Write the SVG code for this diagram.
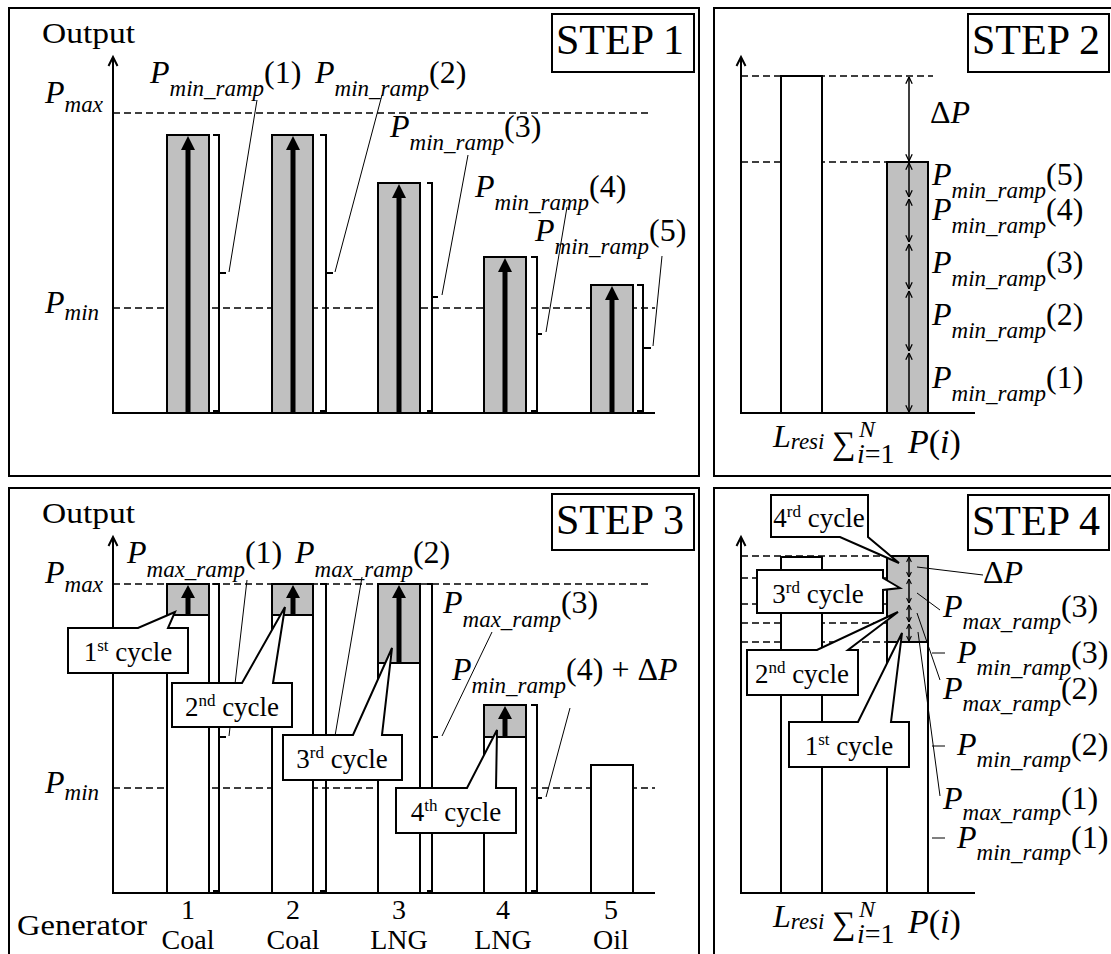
<svg xmlns="http://www.w3.org/2000/svg" width="1111" height="954" viewBox="0 0 1111 954">
<style>
text{font-family:"Liberation Serif","Times New Roman",serif;fill:#000}
.fr{fill:none;stroke:#000;stroke-width:2}
.ax{fill:none;stroke:#000;stroke-width:2}
.ds{fill:none;stroke:#000;stroke-width:1.3;stroke-dasharray:7 4}
.gb{fill:#c0c0c0;stroke:#000;stroke-width:2}
.wb{fill:#fff;stroke:#000;stroke-width:2}
.br{fill:none;stroke:#000;stroke-width:2}
.ld{fill:none;stroke:#000;stroke-width:1}
.ta{stroke:#000;stroke-width:5}
.da{fill:none;stroke:#000;stroke-width:1.5;marker-start:url(#ch);marker-end:url(#ch)}
.ds2{fill:none;stroke:#000;stroke-width:1.5;marker-start:url(#ch2);marker-end:url(#ch2)}
.co{fill:#fff;stroke:#000;stroke-width:2}
.lab{font-size:32px}
.i{font-style:italic}
.sub{font-size:23px;font-style:italic}
.step{font-size:42px}
.cy{font-size:27px}
.sup{font-size:17px}
.gen{font-size:28px}
</style>
<defs>
<marker id="ch" viewBox="0 0 10 10" refX="9.5" refY="5" markerWidth="8" markerHeight="8" markerUnits="userSpaceOnUse" orient="auto-start-reverse"><path d="M1,1 L9.5,5 L1,9" fill="none" stroke="#000" stroke-width="1.6"/></marker>
<marker id="ch2" viewBox="0 0 10 10" refX="9.5" refY="5" markerWidth="6" markerHeight="7" markerUnits="userSpaceOnUse" orient="auto-start-reverse"><path d="M1,1 L9.5,5 L1,9" fill="none" stroke="#000" stroke-width="1.8"/></marker>
</defs>

<!-- ================= STEP 1 ================= -->
<g id="step1">
<rect class="fr" x="9" y="8" width="690" height="468"/>
<g id="s1-title"><rect class="fr" x="552" y="14" width="142" height="58"/><text class="step" x="556" y="54">STEP 1</text></g>
<text id="s1-output" x="42" y="43" font-size="30" textLength="93" lengthAdjust="spacingAndGlyphs">Output</text>
<path class="ds" d="M113 113H652M113 308H655"/>
<g id="s1-axes"><path class="ax" d="M113 57V413H655"/><path class="ax" d="M108.5 66L113 57L117.5 66" stroke-width="1.5"/></g>
<text class="lab" x="45" y="103"><tspan class="i">P</tspan><tspan class="sub" dy="9">max</tspan></text>
<text class="lab" x="45" y="313"><tspan class="i">P</tspan><tspan class="sub" dy="7">min</tspan></text>
<g id="s1-bars">
<rect class="gb" x="167" y="135" width="42" height="278"/>
<rect class="gb" x="272" y="135" width="41" height="278"/>
<rect class="gb" x="378" y="183" width="42" height="230"/>
<rect class="gb" x="484" y="257" width="42" height="156"/>
<rect class="gb" x="591" y="285" width="42" height="128"/>
</g>
<g id="s1-arrows">
<line class="ta" x1="188" y1="412" x2="188" y2="148"/><polygon points="188,136 181,150 195,150"/>
<line class="ta" x1="293" y1="412" x2="293" y2="148"/><polygon points="293,136 286,150 300,150"/>
<line class="ta" x1="399" y1="412" x2="399" y2="196"/><polygon points="399,184 392,198 406,198"/>
<line class="ta" x1="505" y1="412" x2="505" y2="270"/><polygon points="505,258 498,272 512,272"/>
<line class="ta" x1="612" y1="412" x2="612" y2="298"/><polygon points="612,286 605,300 619,300"/>
</g>
<g id="s1-brackets">
<path class="br" d="M213 135H219V411H213M219 273H226"/>
<path class="br" d="M320 135H326V411H320M326 273H333"/>
<path class="br" d="M427 183H432V411H427M432 297H438"/>
<path class="br" d="M531 257H537V411H531M537 334H542"/>
<path class="br" d="M637 285H643V411H637M643 348H651"/>
</g>
<g id="s1-leaders">
<path class="ld" d="M229 272L257 100"/>
<path class="ld" d="M335 272L382 95"/>
<path class="ld" d="M442 295L468 155"/>
<path class="ld" d="M546 332L567 207"/>
<path class="ld" d="M653 346L662 256"/>
</g>
<g id="s1-labels">
<text class="lab" x="150" y="83"><tspan class="i">P</tspan><tspan class="sub" dy="13">min_ramp</tspan><tspan dy="-13">(1)</tspan></text>
<text class="lab" x="315" y="83"><tspan class="i">P</tspan><tspan class="sub" dy="13">min_ramp</tspan><tspan dy="-13">(2)</tspan></text>
<text class="lab" x="390" y="137"><tspan class="i">P</tspan><tspan class="sub" dy="13">min_ramp</tspan><tspan dy="-13">(3)</tspan></text>
<text class="lab" x="475" y="197"><tspan class="i">P</tspan><tspan class="sub" dy="13">min_ramp</tspan><tspan dy="-13">(4)</tspan></text>
<text class="lab" x="535" y="241"><tspan class="i">P</tspan><tspan class="sub" dy="13">min_ramp</tspan><tspan dy="-13">(5)</tspan></text>
</g>
</g>

<!-- ================= STEP 2 ================= -->
<g id="step2">
<rect class="fr" x="714" y="8" width="400" height="468"/>
<g id="s2-title"><rect class="fr" x="968" y="14" width="141" height="58"/><text class="step" x="972" y="54">STEP 2</text></g>
<path class="ds" d="M741 76H933M741 162H887"/>
<g id="s2-axes"><path class="ax" d="M741 57V413H975"/><path class="ax" d="M736.5 66L741 57L745.5 66" stroke-width="1.5"/></g>
<rect id="s2-lresi" class="wb" x="781" y="76" width="41" height="337"/>
<rect id="s2-sum" class="gb" x="887" y="162" width="41" height="251"/>
<g id="s2-arrows">
<line class="da" x1="909" y1="77" x2="909" y2="161"/>
<line class="da" x1="909" y1="163" x2="909" y2="197"/>
<line class="da" x1="909" y1="199" x2="909" y2="242"/>
<line class="da" x1="909" y1="244" x2="909" y2="289"/>
<line class="da" x1="909" y1="291" x2="909" y2="351"/>
<line class="da" x1="909" y1="353" x2="909" y2="412"/>
</g>
<g id="s2-labels">
<text class="lab" x="930" y="123">Δ<tspan class="i">P</tspan></text>
<text class="lab" x="932" y="185"><tspan class="i">P</tspan><tspan class="sub" dy="13">min_ramp</tspan><tspan dy="-13">(5)</tspan></text>
<text class="lab" x="932" y="220"><tspan class="i">P</tspan><tspan class="sub" dy="13">min_ramp</tspan><tspan dy="-13">(4)</tspan></text>
<text class="lab" x="932" y="273"><tspan class="i">P</tspan><tspan class="sub" dy="13">min_ramp</tspan><tspan dy="-13">(3)</tspan></text>
<text class="lab" x="932" y="325"><tspan class="i">P</tspan><tspan class="sub" dy="13">min_ramp</tspan><tspan dy="-13">(2)</tspan></text>
<text class="lab" x="932" y="388"><tspan class="i">P</tspan><tspan class="sub" dy="13">min_ramp</tspan><tspan dy="-13">(1)</tspan></text>
<text class="lab" x="773" y="447"><tspan class="i">L</tspan><tspan class="sub" dy="2">resi</tspan></text>
<g id="s2-sumlabel">
<text x="832" y="454" font-size="33">∑</text>
<text x="859" y="437" font-size="24" class="i">N</text>
<text x="857" y="463" font-size="28"><tspan class="i">i</tspan>=1</text>
<text x="908" y="453" font-size="34"><tspan class="i">P</tspan>(<tspan class="i">i</tspan>)</text>
</g>
</g>
</g>

<!-- ================= STEP 3 ================= -->
<g id="step3">
<rect class="fr" x="9" y="488" width="690" height="470"/>
<g id="s3-title"><rect class="fr" x="552" y="494" width="142" height="56"/><text class="step" x="556" y="534">STEP 3</text></g>
<text id="s3-output" x="42" y="523" font-size="30" textLength="93" lengthAdjust="spacingAndGlyphs">Output</text>
<path class="ds" d="M113 584H652M113 788H655"/>
<g id="s3-axes"><path class="ax" d="M113 537V893H655"/><path class="ax" d="M108.5 546L113 537L117.5 546" stroke-width="1.5"/></g>
<text class="lab" x="45" y="583"><tspan class="i">P</tspan><tspan class="sub" dy="9">max</tspan></text>
<text class="lab" x="45" y="793"><tspan class="i">P</tspan><tspan class="sub" dy="7">min</tspan></text>
<g id="s3-bars">
<rect class="wb" x="167" y="584" width="42" height="309"/><rect class="gb" x="167" y="584" width="42" height="31"/>
<rect class="wb" x="272" y="584" width="41" height="309"/><rect class="gb" x="272" y="584" width="41" height="31"/>
<rect class="wb" x="378" y="584" width="42" height="309"/><rect class="gb" x="378" y="584" width="42" height="79"/>
<rect class="wb" x="484" y="705" width="42" height="188"/><rect class="gb" x="484" y="705" width="42" height="32"/>
<rect class="wb" x="591" y="765" width="42" height="128"/>
</g>
<g id="s3-arrows">
<line class="ta" x1="188" y1="614" x2="188" y2="596"/><polygon points="188,585 181,598 195,598"/>
<line class="ta" x1="293" y1="614" x2="293" y2="596"/><polygon points="293,585 286,598 300,598"/>
<line class="ta" x1="399" y1="662" x2="399" y2="596"/><polygon points="399,585 392,598 406,598"/>
<line class="ta" x1="505" y1="736" x2="505" y2="717"/><polygon points="505,706 498,719 512,719"/>
</g>
<g id="s3-brackets">
<path class="br" d="M213 584H219V891H213M219 737H226"/>
<path class="br" d="M320 584H326V891H320M326 737H333"/>
<path class="br" d="M427 584H432V891H427M432 737H438"/>
<path class="br" d="M531 705H537V891H531M537 798H542"/>
</g>
<g id="s3-leaders">
<path class="ld" d="M229 736L247 580"/>
<path class="ld" d="M335 736L362 577"/>
<path class="ld" d="M442 736L492 632"/>
<path class="ld" d="M546 797L570 708"/>
</g>
<g id="s3-labels">
<text class="lab" x="127" y="563"><tspan class="i">P</tspan><tspan class="sub" dy="14">max_ramp</tspan><tspan dy="-14">(1)</tspan></text>
<text class="lab" x="295" y="563"><tspan class="i">P</tspan><tspan class="sub" dy="14">max_ramp</tspan><tspan dy="-14">(2)</tspan></text>
<text class="lab" x="443" y="613"><tspan class="i">P</tspan><tspan class="sub" dy="14">max_ramp</tspan><tspan dy="-14">(3)</tspan></text>
<text class="lab" x="452" y="680"><tspan class="i">P</tspan><tspan class="sub" dy="13">min_ramp</tspan><tspan dy="-13">(4) + Δ</tspan><tspan class="i">P</tspan></text>
</g>
<g id="s3-callouts">
<g id="s3-c1"><polygon class="co" points="68,628 138,628 175,612 168,628 188,628 188,673 68,673"/><text class="cy" x="128" y="661" text-anchor="middle">1<tspan class="sup" dy="-10">st</tspan><tspan dy="10"> cycle</tspan></text></g>
<g id="s3-c2"><polygon class="co" points="172,683 242,683 285,607 273,683 292,683 292,727 172,727"/><text class="cy" x="232" y="716" text-anchor="middle">2<tspan class="sup" dy="-10">nd</tspan><tspan dy="10"> cycle</tspan></text></g>
<g id="s3-c3"><polygon class="co" points="283,735 353,735 392,648 382,735 402,735 402,780 283,780"/><text class="cy" x="342" y="768" text-anchor="middle">3<tspan class="sup" dy="-10">rd</tspan><tspan dy="10"> cycle</tspan></text></g>
<g id="s3-c4"><polygon class="co" points="396,788 467,788 497,730 496,788 516,788 516,833 396,833"/><text class="cy" x="456" y="821" text-anchor="middle">4<tspan class="sup" dy="-10">th</tspan><tspan dy="10"> cycle</tspan></text></g>
</g>
<g id="s3-gen">
<text x="17" y="935" font-size="30" textLength="130" lengthAdjust="spacingAndGlyphs">Generator</text>
<text class="gen" text-anchor="middle"><tspan x="188" y="919">1</tspan><tspan x="293" y="919">2</tspan><tspan x="399" y="919">3</tspan><tspan x="503" y="919">4</tspan><tspan x="611" y="919">5</tspan></text>
<text class="gen" text-anchor="middle"><tspan x="188" y="949">Coal</tspan><tspan x="293" y="949">Coal</tspan><tspan x="399" y="949">LNG</tspan><tspan x="503" y="949">LNG</tspan><tspan x="611" y="949">Oil</tspan></text>
</g>
</g>

<!-- ================= STEP 4 ================= -->
<g id="step4">
<rect class="fr" x="714" y="488" width="400" height="470"/>
<g id="s4-title"><rect class="fr" x="968" y="495" width="141" height="55"/><text class="step" x="972" y="535">STEP 4</text></g>
<path class="ds" d="M741 556H887M741 578H887M741 604H887M741 623H887M741 642H887"/>
<g id="s4-axes"><path class="ax" d="M741 537V893H975"/><path class="ax" d="M736.5 546L741 537L745.5 546" stroke-width="1.5"/></g>
<rect id="s4-lresi" class="wb" x="781" y="557" width="41" height="336"/>
<g id="s4-sum"><rect class="wb" x="887" y="642" width="41" height="251"/><rect class="gb" x="887" y="556" width="41" height="86"/></g>
<g id="s4-arrows">
<line class="ds2" x1="909" y1="557" x2="909" y2="577"/>
<line class="ds2" x1="909" y1="579" x2="909" y2="603"/>
<line class="ds2" x1="909" y1="605" x2="909" y2="622"/>
<line class="ds2" x1="909" y1="624" x2="909" y2="641"/>
</g>
<g id="s4-leaders">
<path class="ld" d="M917 567L983 575"/>
<path class="ld" d="M917 593L940 610"/>
<path class="ld" d="M917 613L940 680"/>
<path class="ld" d="M918 632L940 796"/>
<path class="ld" d="M932 653H945M932 746H945M932 838H945"/>
</g>
<g id="s4-labels">
<text class="lab" x="983" y="583">Δ<tspan class="i">P</tspan></text>
<text class="lab" x="943" y="617"><tspan class="i">P</tspan><tspan class="sub" dy="12">max_ramp</tspan><tspan dy="-12">(3)</tspan></text>
<text class="lab" x="957" y="663"><tspan class="i">P</tspan><tspan class="sub" dy="12">min_ramp</tspan><tspan dy="-12">(3)</tspan></text>
<text class="lab" x="943" y="699"><tspan class="i">P</tspan><tspan class="sub" dy="12">max_ramp</tspan><tspan dy="-12">(2)</tspan></text>
<text class="lab" x="957" y="755"><tspan class="i">P</tspan><tspan class="sub" dy="12">min_ramp</tspan><tspan dy="-12">(2)</tspan></text>
<text class="lab" x="943" y="809"><tspan class="i">P</tspan><tspan class="sub" dy="11">max_ramp</tspan><tspan dy="-11">(1)</tspan></text>
<text class="lab" x="957" y="848"><tspan class="i">P</tspan><tspan class="sub" dy="12">min_ramp</tspan><tspan dy="-12">(1)</tspan></text>
<text class="lab" x="773" y="927"><tspan class="i">L</tspan><tspan class="sub" dy="2">resi</tspan></text>
<g id="s4-sumlabel">
<text x="832" y="934" font-size="33">∑</text>
<text x="859" y="917" font-size="24" class="i">N</text>
<text x="857" y="943" font-size="28"><tspan class="i">i</tspan>=1</text>
<text x="908" y="933" font-size="34"><tspan class="i">P</tspan>(<tspan class="i">i</tspan>)</text>
</g>
</g>
<g id="s4-callouts">
<g id="s4-c4"><polygon class="co" points="771,495 868,495 868,537 899,563 840,537 771,537"/><text class="cy" x="819" y="527" text-anchor="middle">4<tspan class="sup" dy="-10">rd</tspan><tspan dy="10"> cycle</tspan></text></g>
<g id="s4-c3"><polygon class="co" points="757,570 883,570 883,578 900,588 883,590 883,613 757,613"/><text class="cy" x="818" y="603" text-anchor="middle">3<tspan class="sup" dy="-10">rd</tspan><tspan dy="10"> cycle</tspan></text></g>
<g id="s4-c2"><polygon class="co" points="747,650 817,650 898,612 848,650 858,650 858,695 747,695"/><text class="cy" x="802" y="683" text-anchor="middle">2<tspan class="sup" dy="-10">nd</tspan><tspan dy="10"> cycle</tspan></text></g>
<g id="s4-c1"><polygon class="co" points="789,722 858,722 902,633 891,722 909,722 909,767 789,767"/><text class="cy" x="849" y="755" text-anchor="middle">1<tspan class="sup" dy="-10">st</tspan><tspan dy="10"> cycle</tspan></text></g>
</g>
</g>
</svg>
